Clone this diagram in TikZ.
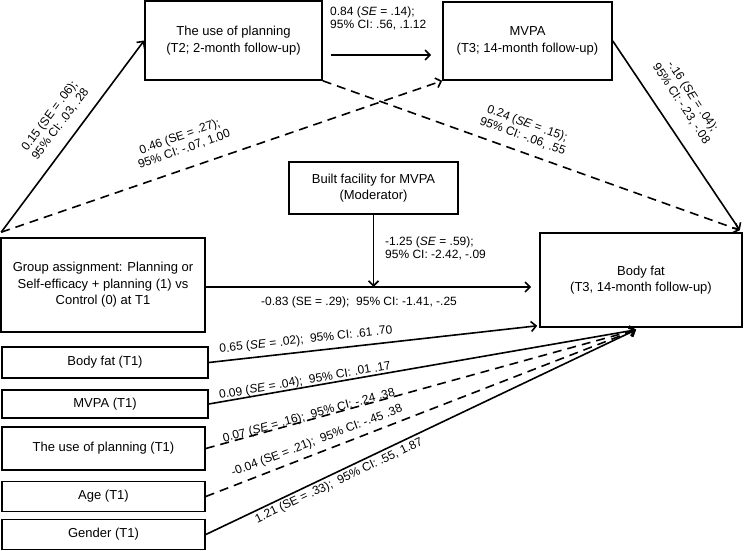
\documentclass[tikz,border=0pt]{standalone}
\usepackage{fontspec}
\setmainfont{Liberation Sans}
\usetikzlibrary{arrows.meta,calc}
\begin{document}
\begin{tikzpicture}[x=1pt,y=-1pt,
 box/.style={draw, line width=1.6pt, align=center, inner sep=0pt, font=\fontsize{13}{16.5}\selectfont},
 lab/.style={align=center, inner sep=0pt, font=\fontsize{12}{13.5}\selectfont},
 labl/.style={lab, align=left},
 conn/.style={line width=1.6pt, -{Straight Barb[length=5pt,width=10pt]}},
 dsh/.style={dash pattern=on 9pt off 6pt}]
\useasboundingbox (0,0) rectangle (744,551);
% boxes
\node[box, minimum width=177pt, minimum height=79pt] (p2) at (233.5,40.5) {The use of planning\\(T2; 2-month follow-up)};
\node[box, minimum width=169pt, minimum height=78pt] (mv3) at (527.5,41) {MVPA\\(T3; 14-month follow-up)};
\node[box, minimum width=169pt, minimum height=52pt] (bf) at (373.5,188) {Built facility for MVPA\\(Moderator)};
\node[box, minimum width=204pt, minimum height=94pt] (grp) at (103,285) {Group assignment: Planning or\\Self-efficacy + planning (1) vs\\Control (0) at T1};
\node[box, minimum width=202pt, minimum height=94pt] (bf3) at (641,280) {Body fat\\(T3, 14-month follow-up)};
\node[box, minimum width=206pt, minimum height=31pt] (bf1) at (105,362.5) {Body fat (T1)};
\node[box, minimum width=206pt, minimum height=28pt] (mv1) at (105,404) {MVPA (T1)};
\node[box, minimum width=203pt, minimum height=43pt] (pl1) at (103.5,448.5) {The use of planning (T1)};
\node[box, minimum width=203pt, minimum height=30pt] (age) at (103.5,496.5) {Age (T1)};
\node[box, minimum width=203pt, minimum height=30pt] (gen) at (103.5,534.5) {Gender (T1)};
% coordinates
\coordinate (gs) at ($(grp.north west)+(1,-5)$);
\coordinate (mod) at (373.5,287);
\coordinate (conv) at ($(bf3.south)+(-5,2)$);
% connectors
\draw[conn] (gs) -- (p2.west);
\draw[conn,dsh] (gs) -- (mv3.south west);
\draw[conn] ($(p2.east)+(8,14.5)$) -- ($(mv3.west)+(-11,14)$);
\draw[conn,dsh] (p2.south east) -- ($(bf3.north east)+(-3,-2)$);
\draw[conn] (mv3.east) -- ($(bf3.north east)+(-3,-2)$);
\draw[conn] (bf.south) -- (mod);
\draw[conn] ($(grp.east)+(0,2)$) -- ($(bf3.west)+(-8,7)$);
\draw[conn] (bf1.east) -- ($(bf3.south west)+(-2,-2)$);
\draw[conn] (mv1.east) -- (conv);
\draw[conn,dsh] (pl1.east) -- (conv);
\draw[conn,dsh] (age.east) -- (conv);
\draw[conn] (gen.east) -- (conv);
% labels
\node[lab, rotate=53] (l1) at (55,120) {0.15 (SE = .06);\\95\% CI: .03, .28};
\node[lab, rotate=19.5] (l2) at (182,143) {0.46 (SE = .27);\\95\% CI: -.07, 1.00};
\node[labl, anchor=west] (l3) at (330,18.5) {0.84 (\textit{SE} = .14);\\95\% CI: .56, .1.12};
\node[lab, rotate=-56.5] (l4) at (687,100) {-.16 (\textit{SE} = .04);\\95\% CI: -.23, -.08};
\node[lab, rotate=-20] (l5) at (525,130) {0.24 (\textit{SE} = .15);\\95\% CI: -.06, .55};
\node[labl, anchor=west] (l6) at (385,248.5) {-1.25 (\textit{SE} = .59);\\95\% CI: -2.42, -.09};
\node[lab] (l7) at (359,302) {-0.83 (SE = .29);\ \ 95\% CI: -1.41, -.25};
\node[lab, rotate=6.4] (l8) at (306,340) {0.65 (\textit{SE} = .02);\ \ 95\% CI: .61 .70};
\node[lab, rotate=9.8] (l9) at (305,381) {0.09 (\textit{SE} = .04);\ \ 95\% CI: .01 .17};
\node[lab, rotate=15.3] (l10) at (309,416) {0.07 (\textit{SE} = .16);\ \ 95\% CI: -.24 .38};
\node[lab, rotate=20.9] (l11) at (317,441) {-0.04 (SE = .21);\ \ 95\% CI: -.45 .38};
\node[lab, rotate=25.3] (l12) at (339,481) {1.21 (SE = .33);\ \ 95\% CI: .55, 1.87};
\end{tikzpicture}
\end{document}
